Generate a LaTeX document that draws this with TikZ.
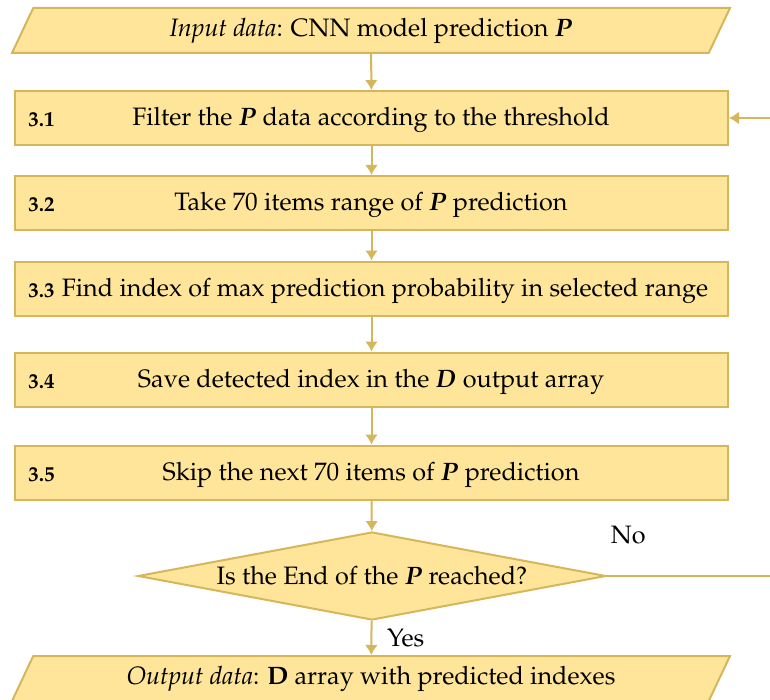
\documentclass[tikz,border=0pt]{standalone}
\usepackage[T1]{fontenc}
\usepackage{mathpazo}
\usepackage{amsmath}
\usepackage{bm}
\usetikzlibrary{arrows.meta,shapes}

\definecolor{boxfill}{RGB}{254,229,154}
\definecolor{boxline}{RGB}{214,182,90}

\begin{document}
\begin{tikzpicture}[x=0.5pt,y=-0.5pt,>={Latex[length=5pt,width=6.5pt]},
  font=\fontsize{12.6}{15}\selectfont,
  stepbox/.style={draw=boxline,fill=boxfill,line width=1pt,minimum width=356.5pt,minimum height=27pt,inner sep=0pt},
  iobox/.style={trapezium,trapezium left angle=50,trapezium right angle=130,trapezium stretches body,
    draw=boxline,fill=boxfill,line width=1pt,minimum width=359pt,minimum height=22.5pt,inner sep=0pt},
  decbox/.style={diamond,aspect=5.3,draw=boxline,fill=boxfill,line width=1pt,minimum width=234pt,minimum height=44pt,inner sep=0pt},
  flow/.style={->,draw=boxline,line width=1pt},
  steplabel/.style={font=\fontsize{10.5}{12}\selectfont\bfseries,yshift=-1pt},
  steptext/.style={yshift=-1pt}]
\useasboundingbox (0,0) rectangle (770,700);
\clip (0,0) rectangle (770,700);

% input and output data
\node[iobox] (in) at (371,30.5) {\textit{Input data}: CNN model prediction $\bm{P}$};
\node[iobox] (out) at (371,678.5) {\textit{Output data}: \textbf{D} array with predicted indexes};

% the processing steps
\foreach \n/\y/\tx/\txt in {
1/118/371/{Filter the $\bm{P}$ data according to the threshold},
2/203/371/{Take 70 items range of $\bm{P}$ prediction},
3/288.5/385/{Find index of max prediction probability in selected range},
4/379.5/371/{Save detected index in the $\bm{D}$ output array},
5/472.5/371/{Skip the next 70 items of $\bm{P}$ prediction}} {
\node[stepbox] (s\n) at (371.5,\y) {};
\node[steplabel] (l\n) at (41.5,\y) {3.\n};
\node[steptext] (t\n) at (\tx,\y) {\txt};
}

% the decision
\node[decbox] (dec) at (372,576) {Is the End of the $\bm{P}$ reached?};

% connectors
\draw[flow] (in) -- (s1);
\draw[flow] (s1) -- (s2);
\draw[flow] (s2) -- (s3);
\draw[flow] (s3) -- (s4);
\draw[flow] (s4) -- (s5);
\draw[flow] (s5) -- (dec);
\draw[flow] (dec) -- node[right=4pt] {Yes} (out);
% the loop back runs outside the picture
\coordinate (back) at (800,576);
\draw[flow] (dec.east) -- node[pos=0.11,above=12pt] {No} (back) |- (s1.east);
\end{tikzpicture}
\end{document}
